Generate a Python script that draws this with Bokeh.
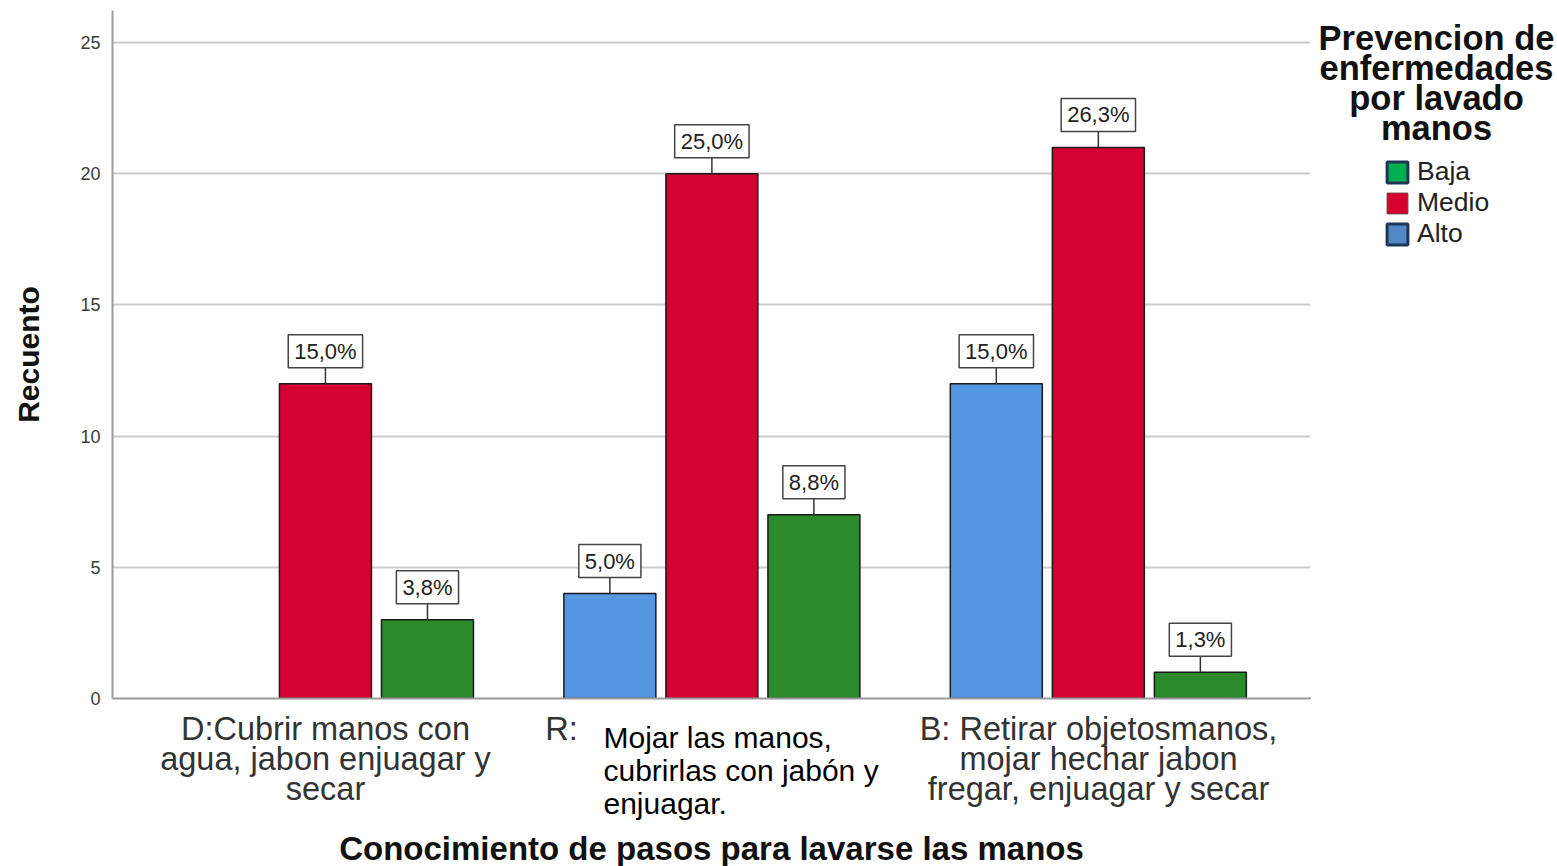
from bokeh.plotting import figure
from bokeh.layouts import row, column
from bokeh.models import ColumnDataSource, Range1d, FixedTicker, Label, Legend, LegendItem
from bokeh.transform import dodge
from bokeh.embed import file_html
from bokeh.resources import INLINE

# ---- data ----
groups = [0, 1, 2]
group_labels = [
    ["D:Cubrir manos con", "agua, jabon enjuagar y", "secar"],
    ["R:"],
    ["B: Retirar objetosmanos,", "mojar hechar jabon", "fregar, enjuagar y secar"],
]
overlay_lines = ["Mojar las manos,", "cubrirlas con jabón y", "enjuagar."]
series = ["Alto", "Medio", "Baja"]
alto = [0, 4, 12]
medio = [12, 20, 21]
baja = [3, 7, 1]
alto_pct = ["", "5,0%", "15,0%"]
medio_pct = ["15,0%", "25,0%", "26,3%"]
baja_pct = ["3,8%", "8,8%", "1,3%"]
legend_order = ["Baja", "Medio", "Alto"]
legend_title = ["Prevencion de", "enfermedades", "por lavado", "manos"]
x_title = "Conocimiento de pasos para lavarse las manos"
y_title = "Recuento"
y_ticks = [0, 5, 10, 15, 20, 25]

FONT = "Liberation Sans"
W, H = 1557, 866
MAIN_W, MAIN_H = 1310, 710
BOTTOM_BORDER = 12
FRAME_BOTTOM = MAIN_H - BOTTOM_BORDER
bar_colors = {"Alto": "#5596E3", "Medio": "#D50032", "Baja": "#2B8A2B"}
legend_fill = {"Baja": "#00B050", "Medio": "#D6002F", "Alto": "#5089C6"}
legend_line = {"Baja": "#1F3554", "Medio": "#6a3a40", "Alto": "#1F3554"}
legend_lw = {"Baja": 3, "Medio": 1, "Alto": 3}
offsets = {"Alto": -0.264, "Medio": 0.0, "Baja": 0.264}
bar_w = 0.238

# ---- main plot ----
p = figure(width=MAIN_W, height=MAIN_H, output_backend="svg", toolbar_location=None,
           title=None,
           x_range=Range1d(-0.551, 2.549), y_range=Range1d(0, 26.22),
           min_border_left=112, min_border_right=0, min_border_top=10,
           min_border_bottom=BOTTOM_BORDER)
p.outline_line_color = None
p.xgrid.grid_line_color = None
p.ygrid.grid_line_color = "#cccccc"
p.ygrid.grid_line_width = 2

p.yaxis.ticker = FixedTicker(ticks=y_ticks)
p.yaxis.major_tick_in = 0
p.yaxis.major_tick_out = 0
p.yaxis.minor_tick_line_color = None
p.yaxis.axis_line_color = "#9a9a9a"
p.yaxis.axis_line_width = 2
p.yaxis.major_label_text_font = FONT
p.yaxis.major_label_text_font_size = "18px"
p.yaxis.major_label_text_color = "#3a3a3a"
p.yaxis.major_label_standoff = 12
p.yaxis.axis_label = y_title
p.yaxis.axis_label_text_font = FONT
p.yaxis.axis_label_text_font_size = "30px"
p.yaxis.axis_label_text_font_style = "bold"
p.yaxis.axis_label_text_color = "#111111"
p.yaxis.axis_label_standoff = 32

p.xaxis.ticker = FixedTicker(ticks=[])
p.xaxis.major_tick_line_color = None
p.xaxis.minor_tick_line_color = None
p.xaxis.major_label_text_font_size = "0px"
p.xaxis.major_label_standoff = 0
p.xaxis.axis_line_color = "#9a9a9a"
p.xaxis.axis_line_width = 2

vals = {"Alto": alto, "Medio": medio, "Baja": baja}
pcts = {"Alto": alto_pct, "Medio": medio_pct, "Baja": baja_pct}
lead = 0.61  # leader line length in data units (~16px)

for s in series:
    xs = [g for g, v in zip(groups, vals[s]) if v > 0]
    vs = [v for v in vals[s] if v > 0]
    ps = [t for t, v in zip(pcts[s], vals[s]) if v > 0]
    src = ColumnDataSource(dict(x=xs, top=vs, pct=ps, top2=[v + lead for v in vs]))
    xd = dodge("x", offsets[s], range=p.x_range)
    p.vbar(x=xd, top="top", width=bar_w, source=src,
           fill_color=bar_colors[s], line_color="#1a1a1a", line_width=1.5)
    p.segment(x0=xd, y0="top", x1=xd, y1="top2",
              source=src, line_color="#333333", line_width=1.5)
    for x, v, t in zip(xs, vs, ps):
        p.add_layout(Label(x=x + offsets[s], y=v, y_offset=16, text=t,
                           text_align="center", text_baseline="bottom",
                           text_font=FONT, text_font_size="22px", text_color="#222222",
                           background_fill_color="white", border_line_color="#444444",
                           border_line_width=1.5,
                           padding=dict(left=6, right=6, top=4, bottom=4)))

# ---- legend panel ----
LW = W - MAIN_W
lf = figure(width=LW, height=MAIN_H, output_backend="svg", toolbar_location=None,
            title=None, x_range=Range1d(0, 1), y_range=Range1d(0, 1),
            x_axis_type=None, y_axis_type=None, min_border=0,
            min_border_bottom=BOTTOM_BORDER, min_border_top=10)
lf.outline_line_color = None
lf.grid.visible = False
items = []
for s in legend_order:
    # placeholder renderer kept outside the visible range; only its legend swatch shows
    r = lf.vbar(x=[-5], top=[0], width=0.5, fill_color=legend_fill[s],
                line_color=legend_line[s], line_width=legend_lw[s])
    items.append(LegendItem(label=s, renderers=[r]))
legend = Legend(items=items, location=(74, FRAME_BOTTOM - 249), orientation="vertical",
                glyph_width=26, glyph_height=26, label_height=30, spacing=0,
                padding=0, margin=0, label_standoff=7,
                label_text_font=FONT, label_text_font_size="26.5px",
                label_text_color="#222222", border_line_color=None,
                background_fill_alpha=0)
lf.add_layout(legend, "center")
for i, line in enumerate(legend_title):
    lf.add_layout(Label(x=1436 - MAIN_W, y=FRAME_BOTTOM - (37 + 30.3 * i), x_units="screen",
                        y_units="screen", text=line, text_align="center",
                        text_baseline="middle", text_font=FONT, text_font_size="34.5px",
                        text_font_style="bold", text_color="#111111"))

# ---- bottom strip with category labels and x title ----
SH = H - MAIN_H
sf = figure(width=W, height=SH, output_backend="svg", toolbar_location=None,
            title=None, x_range=Range1d(0, 1), y_range=Range1d(0, 1),
            x_axis_type=None, y_axis_type=None, min_border=0)
sf.outline_line_color = None
sf.grid.visible = False

def sy(top):
    return H - top

cat_x = {0: 325, 1: 561, 2: 1098}
for g, lines in zip(groups, group_labels):
    for i, line in enumerate(lines):
        sf.add_layout(Label(x=cat_x[g], y=sy(728 + 30 * i), x_units="screen", y_units="screen",
                            text=line, text_align="center", text_baseline="middle",
                            text_font=FONT, text_font_size="32.5px", text_color="#333333"))
for i, line in enumerate(overlay_lines):
    sf.add_layout(Label(x=603, y=sy(737 + 33 * i), x_units="screen", y_units="screen",
                        text=line, text_align="left", text_baseline="middle",
                        text_font=FONT, text_font_size="30px", text_color="#000000"))
sf.add_layout(Label(x=711, y=sy(848), x_units="screen", y_units="screen",
                    text=x_title, text_align="center", text_baseline="middle",
                    text_font=FONT, text_font_size="33px", text_font_style="bold",
                    text_color="#111111"))

layout = column(row(p, lf, spacing=0), sf, spacing=0)
open("out.html", "w").write(file_html(layout, INLINE))
